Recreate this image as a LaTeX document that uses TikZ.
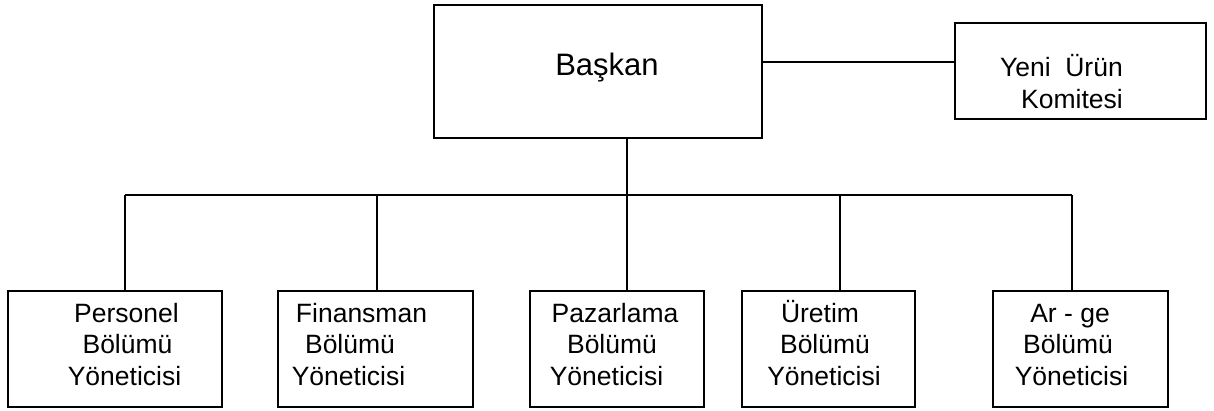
\documentclass[tikz,border=0pt]{standalone}
\usepackage{fontspec}
\setmainfont{Liberation Sans}
\begin{document}
\begin{tikzpicture}[x=1pt,y=-1pt,
  box/.style={draw=black,line width=2.5pt,rectangle,inner sep=0pt},
  wire/.style={draw=black,line width=2.6pt},
  lbl/.style={inner sep=0pt,anchor=base,font=\fontsize{26.5}{32}\selectfont},
  lblr/.style={inner sep=0pt,anchor=base east,font=\fontsize{26.5}{32}\selectfont}]
\useasboundingbox (0,0) rectangle (1214,410);

% top level
\node[box,minimum width=328pt,minimum height=133pt] (baskan) at (598,71.5) {};
\node[inner sep=0pt,anchor=base,font=\fontsize{31}{36}\selectfont] (tbaskan) at (607,75) {Başkan};

\node[box,minimum width=251pt,minimum height=96pt] (yeni) at (1080.5,71) {};
\node[lblr] (tyeni1) at (1123,76) {Yeni\ \ Ürün};
\node[lblr] (tyeni2) at (1123,108) {Komitesi};

% department boxes
\node[box,minimum width=214pt,minimum height=116pt] (b1) at (115,349) {};
\node[box,minimum width=195pt,minimum height=116pt] (b2) at (375.5,349) {};
\node[box,minimum width=174pt,minimum height=116pt] (b3) at (617,349) {};
\node[box,minimum width=173pt,minimum height=116pt] (b4) at (828.5,349) {};
\node[box,minimum width=175pt,minimum height=116pt] (b5) at (1080.5,349) {};

\node[lbl] (t1a) at (126.5,322) {Personel};
\node[lbl] (t1b) at (127.5,353) {Bölümü};
\node[lbl] (t1c) at (124.5,385) {Yöneticisi};

\node[lbl] (t2a) at (361.5,322) {Finansman};
\node[lbl] (t2b) at (350,353) {Bölümü};
\node[lbl] (t2c) at (348.5,385) {Yöneticisi};

\node[lbl] (t3a) at (615,322) {Pazarlama};
\node[lbl] (t3b) at (612,353) {Bölümü};
\node[lbl] (t3c) at (606.5,385) {Yöneticisi};

\node[lbl] (t4a) at (820,322) {Üretim};
\node[lbl] (t4b) at (825,353) {Bölümü};
\node[lbl] (t4c) at (824,385) {Yöneticisi};

\node[lbl] (t5a) at (1070,322) {Ar - ge};
\node[lbl] (t5b) at (1068,353) {Bölümü};
\node[lbl] (t5c) at (1071.5,385) {Yöneticisi};

% bus points
\coordinate (bus1) at (125,195);
\coordinate (bus2) at (377,195);
\coordinate (bus3) at (627,195);
\coordinate (bus4) at (840,195);
\coordinate (bus5) at (1072,195);
\coordinate (ylink) at (0,62);

% connectors
\draw[wire] (baskan.east |- ylink) -- (yeni.west |- ylink);
\draw[wire] (baskan.south -| bus3) -- (bus3);
\draw[wire] (bus1) -- (bus5);
\draw[wire] (bus1) -- (b1.north -| bus1);
\draw[wire] (bus2) -- (b2.north -| bus2);
\draw[wire] (bus3) -- (b3.north -| bus3);
\draw[wire] (bus4) -- (b4.north -| bus4);
\draw[wire] (bus5) -- (b5.north -| bus5);
\end{tikzpicture}
\end{document}
